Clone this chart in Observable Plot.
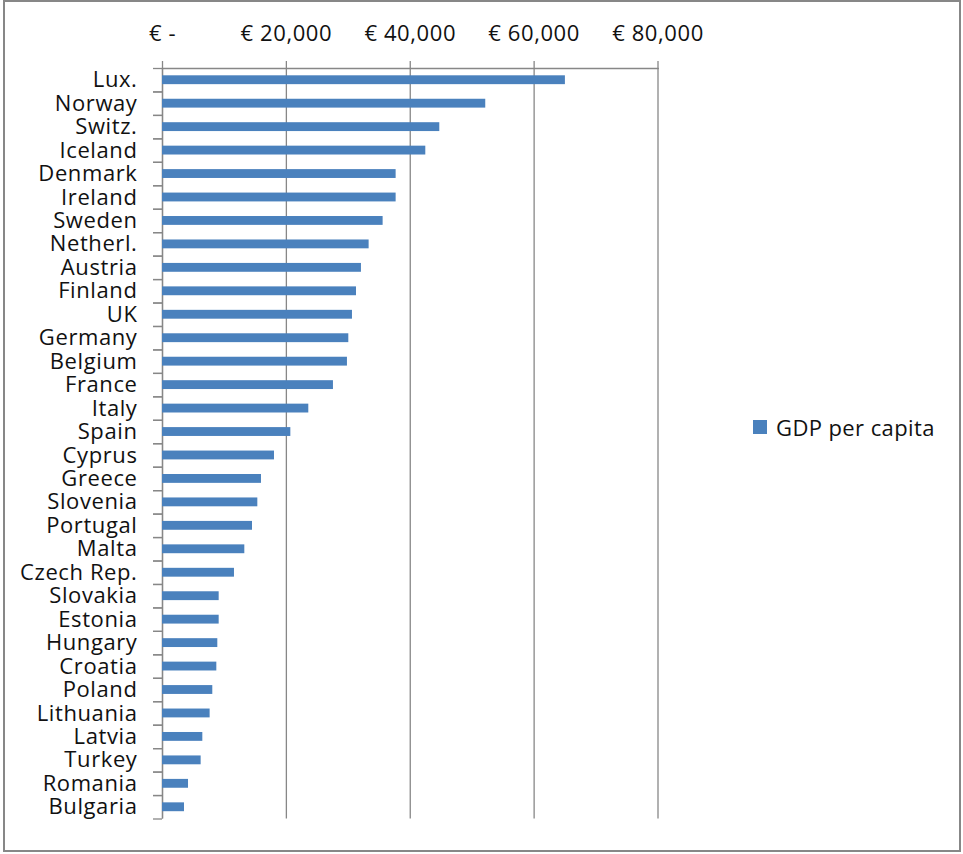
<!DOCTYPE html>
<html>
<head>
<meta charset="utf-8">
<script src="https://cdn.jsdelivr.net/npm/d3@7"></script>
<script src="https://cdn.jsdelivr.net/npm/@observablehq/plot@0.6"></script>
<style>
  html, body { margin: 0; padding: 0; background: #fff; }
  #wrap { position: relative; width: 963px; height: 854px; overflow: hidden; }
  #border { position: absolute; left: 3px; top: 0px; width: 958px; height: 852px; box-sizing: border-box; border: 2.5px solid #878787; }
  #chart { position: absolute; left: 0; top: 0; }
  #legend { position: absolute; left: 753px; top: 412px; font-family: "Open Sans", sans-serif; font-size: 22px; letter-spacing: 0.4px; color: #111; display: flex; align-items: center; white-space: nowrap; }
  #legend .sw { width: 14px; height: 14px; background: #4a81bd; margin-right: 9px; }
</style>
</head>
<body>
<div id="wrap">
  <div id="border"></div>
  <div id="chart"></div>
  <div id="legend"><span class="sw"></span><span>GDP per capita</span></div>
</div>
<script>
const countries = ["Lux.", "Norway", "Switz.", "Iceland", "Denmark", "Ireland", "Sweden", "Netherl.", "Austria", "Finland", "UK", "Germany", "Belgium", "France", "Italy", "Spain", "Cyprus", "Greece", "Slovenia", "Portugal", "Malta", "Czech Rep.", "Slovakia", "Estonia", "Hungary", "Croatia", "Poland", "Lithuania", "Latvia", "Turkey", "Romania", "Bulgaria"];
const gdpPerCapita = [65050, 52190, 44770, 42510, 37720, 37720, 35620, 33360, 32120, 31320, 30670, 30080, 29860, 27600, 23620, 20720, 18080, 15980, 15390, 14530, 13290, 11620, 9150, 9150, 8930, 8770, 8120, 7690, 6510, 6240, 4200, 3550];
const xTicks = [0, 20000, 40000, 60000, 80000];
const seriesName = "GDP per capita";

const data = countries.map((c, i) => ({country: c, gdp: gdpPerCapita[i]}));

const W = 963, H = 854, mT = 68, mB = 35.5, mL = 162, mR = 305.5;
const step = (H - mT - mB) / countries.length;
const grey = "#878787";
const fmt = d => d === 0 ? "€ -" : "€ " + d3.format(",")(d);

const chart = Plot.plot({
  width: W, height: H,
  marginTop: mT, marginBottom: mB, marginLeft: mL, marginRight: mR,
  style: {fontFamily: "'Open Sans', sans-serif", fontSize: "22px", letterSpacing: "0.6px", color: "#111", background: "transparent", overflow: "visible"},
  x: {domain: [0, 80000], axis: null, round: false},
  y: {domain: countries, padding: 0, axis: null, round: false},
  marks: [
    Plot.gridX(xTicks, {stroke: grey, strokeOpacity: 1, strokeWidth: 1.3}),
    Plot.axisX(xTicks, {anchor: "top", label: null, tickSize: 8, tickPadding: 20, tickFormat: fmt, stroke: grey, strokeWidth: 1.3}),
    Plot.frame({anchor: "top", stroke: grey, strokeWidth: 1.3}),
    Plot.ruleX([0], {stroke: grey, strokeWidth: 1.3}),
    Plot.axisY({label: null, tickSize: 9, fill: "none", dy: step / 2, stroke: grey, strokeWidth: 1.3}),
    Plot.axisY({label: null, tickSize: 9, fill: "none", dy: -step / 2, stroke: grey, strokeWidth: 1.3}),
    Plot.axisY({label: null, tickSize: 0, tickPadding: 25}),
    Plot.barX(data, {x: "gdp", y: "country", fill: "#4a81bd", insetTop: 7.3, insetBottom: 7.3})
  ]
});
document.getElementById("chart").appendChild(chart);
</script>
</body>
</html>
